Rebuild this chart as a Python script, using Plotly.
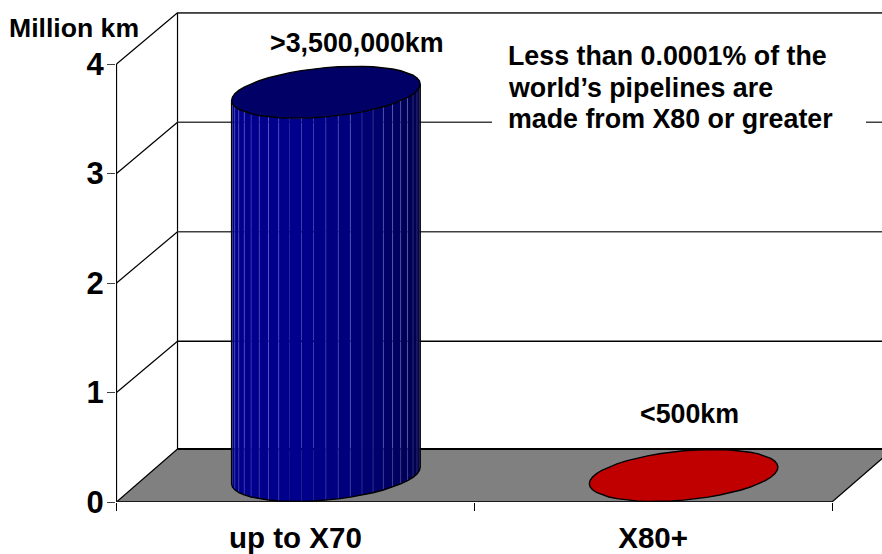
import math
import plotly.graph_objects as go

# Pipeline length by steel grade, million km
categories = ["up to X70", "X80+"]
lengths = [3.5, 0.0005]
top_colors = ["#000066", "#c00000"]
value_ticks = [0, 1, 2, 3, 4]
value_labels = ["0", "1", "2", "3", "4"]
column_labels = [">3,500,000km", "<500km"]
note_lines = ["Less than 0.0001% of the", "world\u2019s pipelines are", "made from X80 or greater"]

FONT = "Liberation Sans, Arial, sans-serif"
W, H = 882, 554
LEFT, BOTTOM = 116, 52
CAT_PX, VAL_PX = 357.75, 109.5          # pixels per category / per million km
XMIN = -(295.4 - LEFT) / CAT_PX
XMAX = XMIN + (W - LEFT) / CAT_PX
YMAX = (H - BOTTOM) / VAL_PX
DEPTH_X, DEPTH_Y = 61 / CAT_PX, 53 / VAL_PX   # oblique offset of the floor's back edge
WALL_Y = 51.3 / VAL_PX                        # the wall's ruling sits a little lower
RADIUS_CAT, RADIUS_DEPTH = 0.25, 0.49
FACETS = 48
TOP_VALUE = 4
EDGES = (-0.5, 0.5, 1.5)


def depth(x, y, d):
    """Project a plot point to depth d (0 = front, 1 = back wall)."""
    return x + d * DEPTH_X, y + d * DEPTH_Y


def rim(cat, value, k):
    """Vertex k of the faceted circle of a column at the given value."""
    phase = math.atan2(RADIUS_DEPTH * 61, RADIUS_CAT * CAT_PX)
    t = phase - 2 * math.pi * k / FACETS
    return depth(cat + RADIUS_CAT * math.cos(t), value, 0.5 + RADIUS_DEPTH * math.sin(t))


def facet_color(k):
    # k runs from the right silhouette (dark) to the left one (lit)
    s = k / (FACETS / 2)
    blue = 60 + (140 - 60) * min(1, s / 0.55) ** 0.8
    return f"rgb(0,0,{int(blue)})"


fig = go.Figure()


def line(xs, ys, color="#000000", width=1.2):
    fig.add_trace(go.Scatter(x=xs, y=ys, mode="lines", hoverinfo="skip", showlegend=False,
                             line=dict(color=color, width=width)))


def poly(xs, ys, fill, outline=None, width=1.4):
    fig.add_trace(go.Scatter(x=xs, y=ys, mode="lines", fill="toself", fillcolor=fill,
                             hoverinfo="skip", showlegend=False,
                             line=dict(color=outline or fill, width=width if outline else 0)))


# Floor
corners = [depth(EDGES[0], 0, 0), depth(EDGES[2], 0, 0), depth(EDGES[2], 0, 1), depth(EDGES[0], 0, 1)]
poly([c[0] for c in corners] + [corners[0][0]], [c[1] for c in corners] + [corners[0][1]], "#808080")

# Back wall and side wall
bx, by = depth(EDGES[0], 0, 1)
line([bx, bx], [by, TOP_VALUE + WALL_Y])
line([bx, XMAX + 0.05], [TOP_VALUE + WALL_Y, TOP_VALUE + WALL_Y], width=1.5)
for v in value_ticks:
    ey = v + (WALL_Y if v else DEPTH_Y)
    line([EDGES[0], bx], [v, ey], width=1.2)
    if v == 0:
        continue
    grid = "#000000" if v == 1 else "#404040"
    line([bx, XMAX + 0.05], [ey, ey], color=grid, width=1.4)
line([EDGES[0], EDGES[0]], [0, TOP_VALUE])

# Floor edges
line([bx, XMAX + 0.05], [by, by], color="#000000", width=2)
line([EDGES[0], EDGES[2]], [0, 0], color="#1a1a1a", width=2)
rx0, ry0 = depth(EDGES[2], 0, 0)
rx1, ry1 = depth(EDGES[2], 0, 1)
line([rx0, rx1], [ry0, ry1])

# White panel behind the note
px = lambda p: XMIN + (p - LEFT) / CAT_PX
py = lambda p: (H - BOTTOM - p) / VAL_PX
poly([px(492), px(866), px(866), px(492), px(492)], [py(36), py(36), py(134), py(134), py(36)], "#ffffff")

# Columns: visible side facets first, then the top disk
for c, (value, top) in enumerate(zip(lengths, top_colors)):
    half = FACETS // 2
    if value > 0.01:
        for k in range(half):
            a, b = rim(c, 0, k), rim(c, 0, k + 1)
            a2, b2 = rim(c, value, k), rim(c, value, k + 1)
            poly([a[0], b[0], b2[0], a2[0], a[0]], [a[1], b[1], b2[1], a2[1], a[1]], facet_color(k))
        # Lit seams between the facets, absent across the brightest band
        sx, sy = [], []
        for k in range(1, half):
            if half // 2 < k < half // 2 + 4:
                continue
            a, a2 = rim(c, 0, k), rim(c, value, k)
            sx += [a[0], a2[0], None]
            sy += [a[1], a2[1], None]
        line(sx, sy, color="rgba(150,150,255,0.27)", width=1)
        # Outline of the body
        arc = [rim(c, 0, k) for k in range(half + 1)]
        r_top, l_top = rim(c, value, 0), rim(c, value, half)
        line([r_top[0]] + [p[0] for p in arc] + [l_top[0]], [r_top[1]] + [p[1] for p in arc] + [l_top[1]],
             color="#000000", width=1.4)
    disk = [rim(c, value, k) for k in range(FACETS + 1)]
    poly([p[0] for p in disk], [p[1] for p in disk], top, outline="#000000", width=1.4)


def text(s, x, y, size=26.8, anchor="left"):
    return dict(text=f"<b>{s}</b>", x=(x - LEFT) / (W - LEFT), y=(H - BOTTOM - y) / (H - BOTTOM),
                xref="paper", yref="paper", xanchor=anchor, yanchor="middle", showarrow=False,
                font=dict(family=FONT, size=size, color="#000000"))


annotations = [text("Million km", 7, 28, size=26.6)]
annotations += [text(column_labels[0], 357, 43, anchor="center"), text(column_labels[1], 689, 414, anchor="center")]
annotations += [text(s, 505.5, 56 + 31.6 * i) for i, s in enumerate(note_lines)]

fig.update_layout(
    width=W, height=H, margin=dict(l=LEFT, r=0, t=0, b=BOTTOM, autoexpand=False),
    paper_bgcolor="#ffffff", plot_bgcolor="#ffffff", showlegend=False, annotations=annotations,
    xaxis=dict(range=[XMIN, XMAX], tickmode="array", tickvals=list(range(len(categories))),
               ticktext=[f"<b>{c}</b>" for c in categories], ticks="", showgrid=False, zeroline=False,
               showline=False, tickfont=dict(family=FONT, size=29.5, color="#000000"), ticklabelstandoff=15,
               minor=dict(tickmode="array", tickvals=list(EDGES), ticks="outside", ticklen=8, tickwidth=1,
                          tickcolor="#000000", showgrid=False)),
    yaxis=dict(range=[0, YMAX], tickmode="array", tickvals=value_ticks,
               ticktext=[f"<b>{v}</b>" for v in value_labels], ticks="outside", ticklen=8, tickwidth=1,
               tickcolor="#404040", showgrid=False, zeroline=False, showline=False, ticklabelstandoff=-3,
               tickfont=dict(family=FONT, size=31, color="#000000")),
)

fig.write_html("out.html")
